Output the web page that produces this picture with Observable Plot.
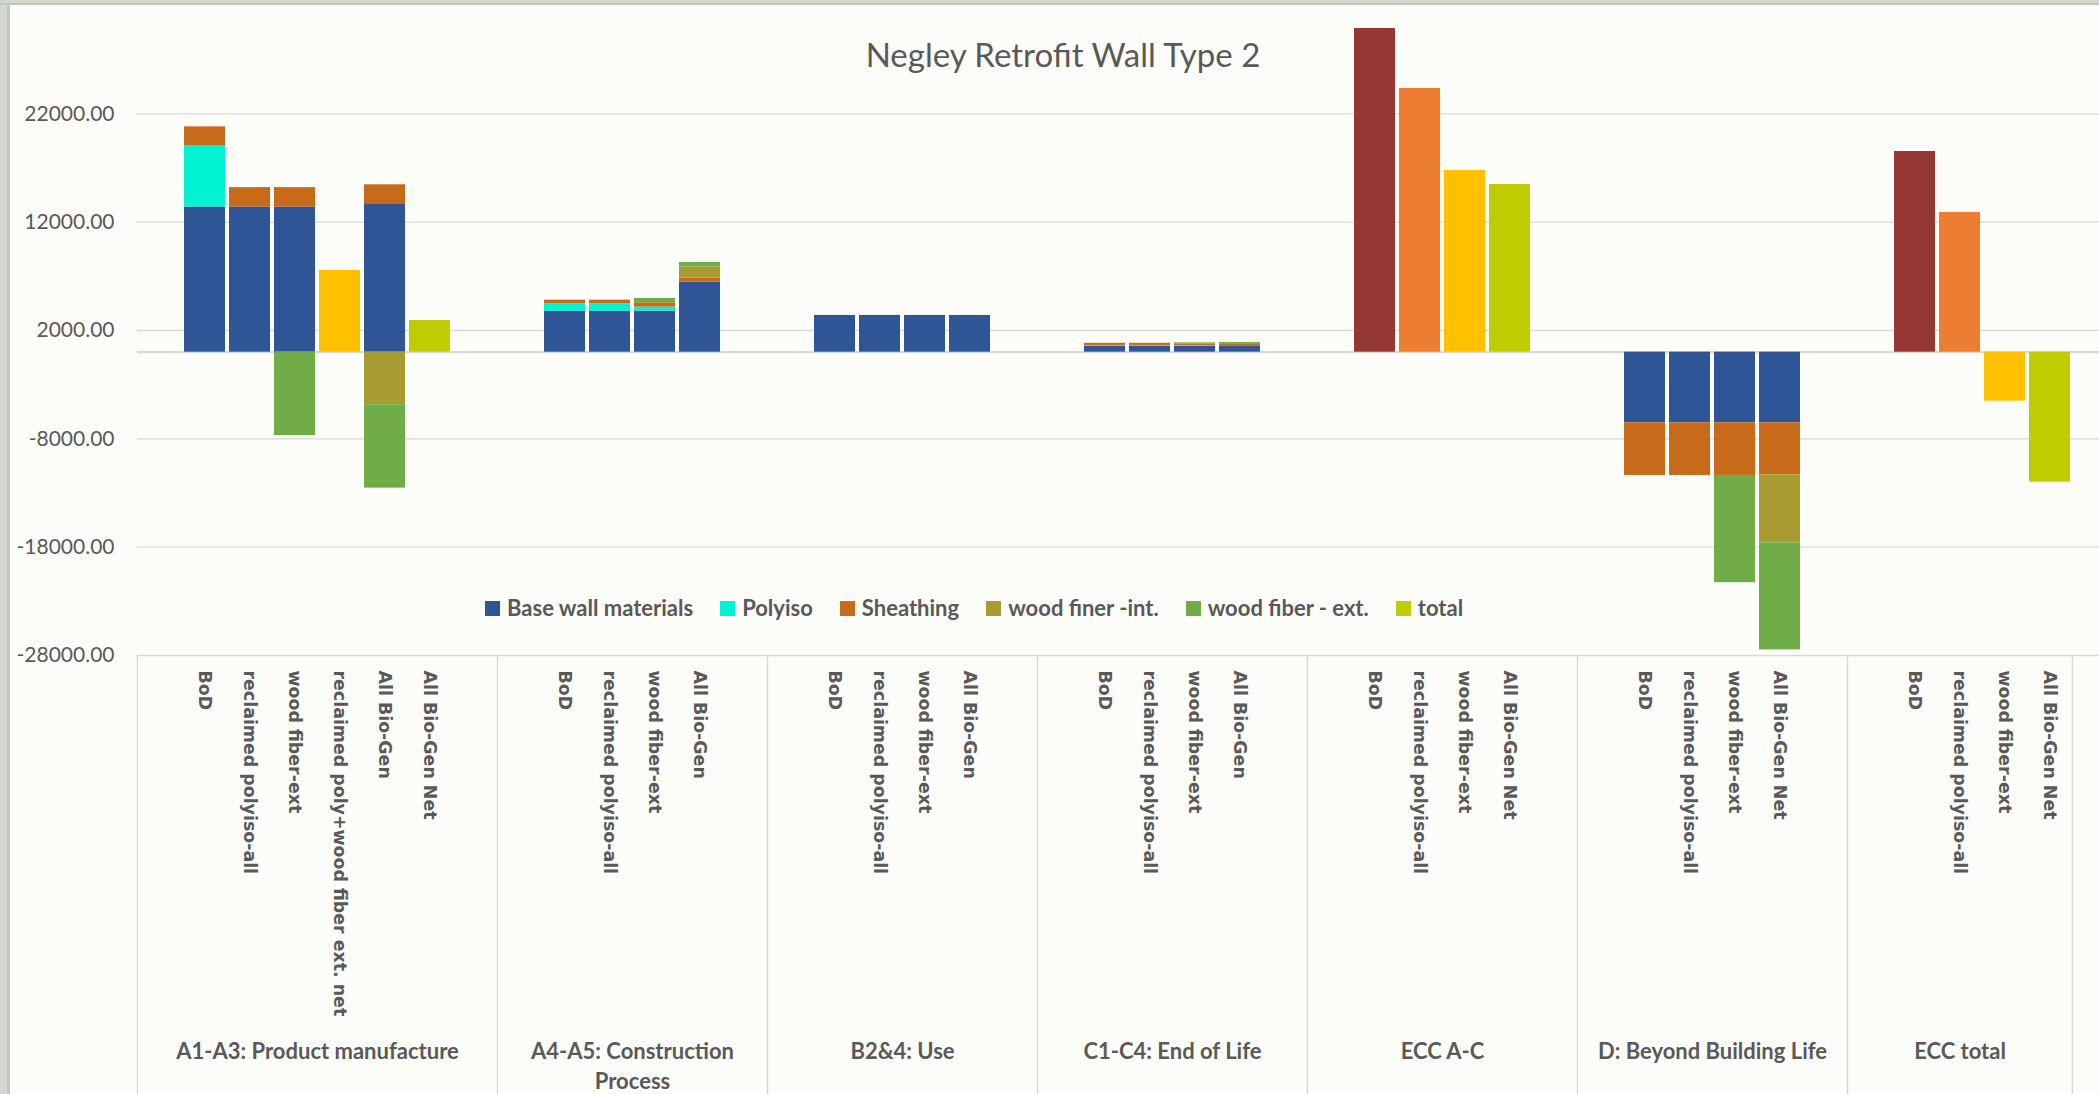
<!DOCTYPE html>
<html><head><meta charset="utf-8">
<script src="https://cdn.jsdelivr.net/npm/d3@7"></script>
<script src="https://cdn.jsdelivr.net/npm/@observablehq/plot@0.6"></script>
<style>
html,body{margin:0;padding:0;background:#FCFDF8;overflow:hidden;}
#wrap{position:relative;width:2099px;height:1094px;}
#title{position:absolute;left:0;width:2126px;top:38px;text-align:center;font:33px Lato, sans-serif;color:#595959;line-height:33px;}
#legend{position:absolute;left:485px;top:597px;display:flex;align-items:center;font:bold 22px Lato, sans-serif;color:#595959;line-height:22px;white-space:nowrap;}
.item{display:flex;align-items:center;margin-right:27px;}
.sw{width:15px;height:15px;margin-right:7px;}
#frameL{position:absolute;left:0;top:0;width:7px;height:1094px;background:#D3D8CF;border-right:3px solid #C2C5C1;}
#frameT{position:absolute;left:0;top:0;width:2099px;height:3px;background:#D3D8CF;border-bottom:2px solid #C2C5C1;}
</style></head>
<body><div id="wrap"></div>
<script>
// ---- data ----
const groups = ["A1-A3: Product manufacture", "A4-A5: Construction\nProcess", "B2&4: Use", "C1-C4: End of Life", "ECC A-C", "D: Beyond Building Life", "ECC total"];
const groupCats = [
  ["BoD", "reclaimed polyiso-all", "wood fiber-ext", "reclaimed poly+wood fiber ext. net", "All Bio-Gen", "All Bio-Gen Net"],
  ["BoD", "reclaimed polyiso-all", "wood fiber-ext", "All Bio-Gen"],
  ["BoD", "reclaimed polyiso-all", "wood fiber-ext", "All Bio-Gen"],
  ["BoD", "reclaimed polyiso-all", "wood fiber-ext", "All Bio-Gen"],
  ["BoD", "reclaimed polyiso-all", "wood fiber-ext", "All Bio-Gen Net"],
  ["BoD", "reclaimed polyiso-all", "wood fiber-ext", "All Bio-Gen Net"],
  ["BoD", "reclaimed polyiso-all", "wood fiber-ext", "All Bio-Gen Net"]
];
const seriesNames = ["Base wall materials", "Polyiso", "Sheathing", "wood finer -int.", "wood fiber - ext.", "total"];
const base      = [13400,13400,13400,null,13700,null, 3790,3790,3790,6460, 3390,3390,3390,3390, 530,530,530,530, null,null,null,null, -6520,-6520,-6520,-6520, null,null,null,null];
const polyiso   = [5630,null,null,null,null,null, 680,680,370,null, null,null,null,null, 90,90,60,null, null,null,null,null, null,null,null,null, null,null,null,null];
const sheathing = [1770,1790,1790,null,1750,null, 330,330,400,370, null,null,null,null, 200,200,170,180, null,null,null,null, -4860,-4860,-4860,-4800, null,null,null,null];
const woodInt   = [null,null,null,null,-4850,null, null,null,null,1030, null,null,null,null, null,null,null,90, null,null,null,null, null,null,null,-6280, null,null,null,null];
const woodExt   = [null,null,-7700,null,-7700,null, null,null,400,420, null,null,null,null, null,null,100,90, null,null,null,null, null,null,-9900,-9880, null,null,null,null];
const total     = [null,null,null,7550,null,2920, null,null,null,null, null,null,null,null, null,null,null,null, 29880,24340,16770,15480, null,null,null,null, 18520,12900,-4520,-12000];
const yTicks = [-28000, -18000, -8000, 2000, 12000, 22000];

// ---- styles ----
const seriesColors = ["#2F5597", "#00F3D5", "#C76A1A", "#A89B32", "#70AD47", "#BFCC00"];
const totalColors = {"BoD": "#953735", "reclaimed polyiso-all": "#ED7D31", "wood fiber-ext": "#FFC000", "reclaimed poly+wood fiber ext. net": "#FFC000", "All Bio-Gen Net": "#BFCC00"};

// ---- build slots (blank slot before/after each group, like the Excel axis) ----
const slots = [], catSlots = [], slotLabel = new Map(), catIndexSlot = [], groupInfo = [];
groups.forEach((g, gi) => {
  const start = slots.length;
  slots.push(gi + "|pre");
  groupCats[gi].forEach(c => { const k = gi + "|" + c; slots.push(k); catSlots.push(k); slotLabel.set(k, c); catIndexSlot.push({k, c}); });
  if (gi < groups.length - 1) slots.push(gi + "|post");
  const n = slots.length - start;
  groupInfo.push({label: g, first: slots[start], last: slots[slots.length - 1], mid: slots[start + Math.floor((n - 1) / 2)], even: n % 2 === 0});
});
const seriesValues = [base, polyiso, sheathing, woodInt, woodExt, total];
const rows = [];
seriesNames.forEach((s, si) => {
  seriesValues[si].forEach((v, i) => {
    if (v == null) return;
    const {k, c} = catIndexSlot[i];
    rows.push({slot: k, value: v, series: s, color: s === "total" ? totalColors[c] : seriesColors[si]});
  });
});

const W = 2099, H = 1094, xLeft = 137, xRight = 2072;
const step = (xRight - xLeft) / slots.length;
const grid = "#D9D9D9", ink = "#595959";

const chart = Plot.plot({
  width: W, height: H,
  marginLeft: xLeft, marginRight: 0, marginTop: 5, marginBottom: 439,
  style: {fontFamily: "Lato, sans-serif", fontSize: "21px", color: ink, background: "#FCFDF8", overflow: "visible"},
  x: {type: "band", domain: slots, range: [xLeft, xRight], paddingInner: 0.09, paddingOuter: 0.045, align: 0.5},
  y: {domain: [-28000, 32000]},
  color: {type: "identity"},
  marks: [
    Plot.ruleY(yTicks, {stroke: grid, strokeWidth: 1.4}),
    Plot.ruleY([0], {stroke: grid, strokeWidth: 2.4}),
    Plot.barY(rows, {x: "slot", y: "value", z: "series", fill: "color"}),
    Plot.axisY({ticks: yTicks, tickFormat: d => d.toFixed(2), tickSize: 0, tickPadding: 23, fontSize: 21, label: null}),
    Plot.axisX({ticks: catSlots, tickFormat: k => slotLabel.get(k), tickRotate: 90, tickSize: 0, tickPadding: 15,
      fontSize: 17.4, fontWeight: "bold", fontFamily: "DejaVu Sans, sans-serif", label: null}),
    Plot.ruleX(groupInfo, {x: "first", dx: -step / 2, insetTop: 650, insetBottom: -439, stroke: grid, strokeWidth: 1.4}),
    Plot.ruleX(groupInfo.slice(-1), {x: "last", dx: step / 2, insetTop: 650, insetBottom: -439, stroke: grid, strokeWidth: 1.4}),
    Plot.text(groupInfo.filter(d => d.even), {x: "mid", text: "label", dx: step / 2, frameAnchor: "bottom", lineAnchor: "top", dy: 382,
      fontSize: 22, fontWeight: "bold", lineHeight: 1.36, fill: ink}),
    Plot.text(groupInfo.filter(d => !d.even), {x: "mid", text: "label", frameAnchor: "bottom", lineAnchor: "top", dy: 382,
      fontSize: 22, fontWeight: "bold", lineHeight: 1.36, fill: ink})
  ]
});

const wrap = document.getElementById("wrap");
wrap.appendChild(chart);
const t = document.createElement("div"); t.id = "title"; t.textContent = "Negley Retrofit Wall Type 2"; wrap.appendChild(t);
const lg = document.createElement("div"); lg.id = "legend";
seriesNames.forEach((s, i) => {
  const it = document.createElement("div"); it.className = "item";
  const sw = document.createElement("span"); sw.className = "sw"; sw.style.background = seriesColors[i];
  const tx = document.createElement("span"); tx.textContent = s;
  it.appendChild(sw); it.appendChild(tx); lg.appendChild(it);
});
wrap.appendChild(lg);
["frameL", "frameT"].forEach(id => { const d = document.createElement("div"); d.id = id; wrap.appendChild(d); });
</script></body></html>
